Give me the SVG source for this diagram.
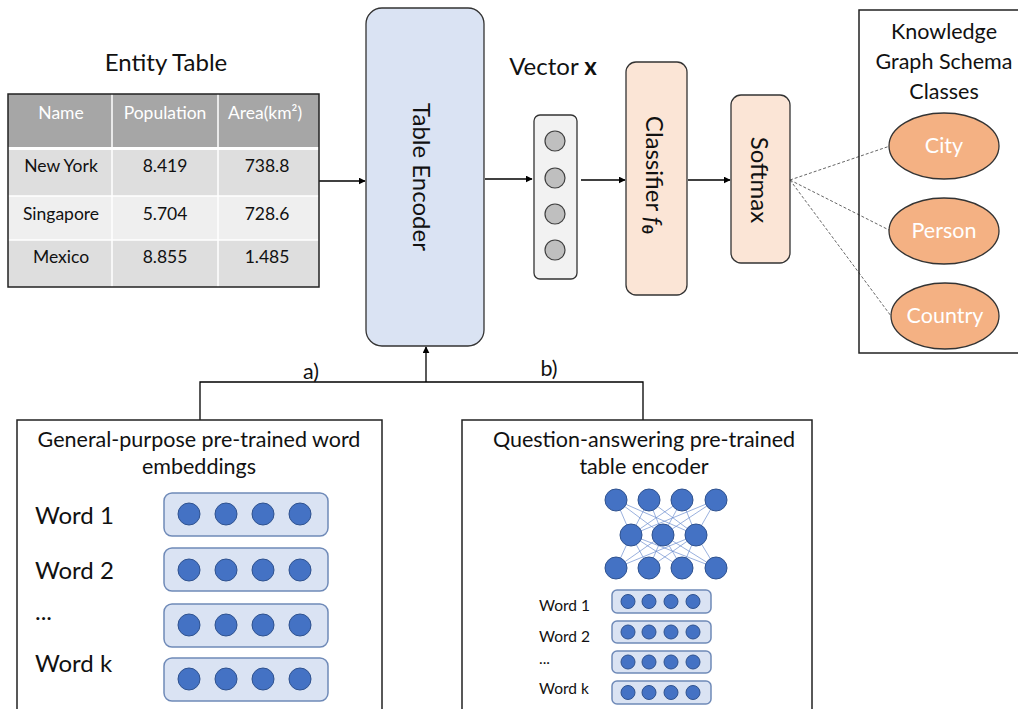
<svg xmlns="http://www.w3.org/2000/svg" width="1018" height="709" viewBox="0 0 1018 709">
<defs>
<marker id="arr" viewBox="0 0 10 10" refX="9" refY="5" markerWidth="7" markerHeight="7" orient="auto" markerUnits="userSpaceOnUse">
<path d="M0,0 L10,5 L0,10 z" fill="#000"/>
</marker>
</defs>
<style>
text{font-family:Lato,"Open Sans","Liberation Sans",sans-serif;fill:#111}
.hd{fill:#fff;font-size:17.5px}
.cell{font-size:17.5px}
.big{font-size:24px}
.lbl{font-size:21.5px}
.wl{font-size:24px}
.ws{font-size:15.5px}
.conn{stroke:#000;stroke-width:1.3;fill:none}
.dash{stroke:#666;stroke-width:1;stroke-dasharray:3,2;fill:none}
.vb{fill:#dae3f3;stroke:#6f8ab8;stroke-width:1.5}
.dot{fill:#4472c4;stroke:#2f528f;stroke-width:1}
.nn{stroke:#6f8fd0;stroke-width:0.7}
.ell{fill:#f4b183;stroke:#333;stroke-width:1.3}
.et{fill:#fff;font-size:21.5px}
.gc{fill:#bfbfbf;stroke:#404040;stroke-width:1.2}
</style>

<g id="connectors">
<line class="conn" x1="319" y1="181" x2="365" y2="181" marker-end="url(#arr)"/>
<line class="conn" x1="485" y1="179" x2="532" y2="179" marker-end="url(#arr)"/>
<line class="conn" x1="581" y1="180" x2="625" y2="180" marker-end="url(#arr)"/>
<line class="conn" x1="688" y1="180" x2="730" y2="180" marker-end="url(#arr)"/>
<line class="dash" x1="790" y1="180" x2="890" y2="146"/>
<line class="dash" x1="790" y1="180" x2="889" y2="230"/>
<line class="dash" x1="790" y1="180" x2="891" y2="316"/>
<polyline class="conn" points="200,420 200,382 643,382 643,420"/>
<line class="conn" x1="426" y1="382" x2="426" y2="347" marker-end="url(#arr)"/>
<text class="lbl" x="311" y="379" text-anchor="middle">a)</text>
<text class="lbl" x="549" y="376" text-anchor="middle">b)</text>
</g>

<g id="entity-table">
<text class="big" x="166" y="71" text-anchor="middle">Entity Table</text>
<rect x="8" y="94" width="311" height="53" fill="#a6a6a6"/>
<rect x="8" y="150" width="311" height="46" fill="#dedede"/>
<rect x="8" y="196" width="311" height="44" fill="#efefef"/>
<rect x="8" y="240" width="311" height="47" fill="#dedede"/>
<line x1="8" y1="148.5" x2="319" y2="148.5" stroke="#fff" stroke-width="3"/>
<line x1="8" y1="196" x2="319" y2="196" stroke="#fff" stroke-width="1.5"/>
<line x1="8" y1="240" x2="319" y2="240" stroke="#fff" stroke-width="1.5"/>
<line x1="112" y1="94" x2="112" y2="287" stroke="#fff" stroke-width="1.5"/>
<line x1="218" y1="94" x2="218" y2="287" stroke="#fff" stroke-width="1.5"/>
<rect x="8" y="94" width="311" height="193" fill="none" stroke="#222" stroke-width="1.5"/>
<text class="hd" x="61" y="119" text-anchor="middle">Name</text>
<text class="hd" x="165" y="119" text-anchor="middle">Population</text>
<text class="hd" x="265" y="119" text-anchor="middle">Area(km²)</text>
<text class="cell" x="61" y="172" text-anchor="middle">New York</text>
<text class="cell" x="165" y="172" text-anchor="middle">8.419</text>
<text class="cell" x="267" y="172" text-anchor="middle">738.8</text>
<text class="cell" x="61" y="220" text-anchor="middle">Singapore</text>
<text class="cell" x="165" y="220" text-anchor="middle">5.704</text>
<text class="cell" x="267" y="220" text-anchor="middle">728.6</text>
<text class="cell" x="61" y="263" text-anchor="middle">Mexico</text>
<text class="cell" x="165" y="263" text-anchor="middle">8.855</text>
<text class="cell" x="267" y="263" text-anchor="middle">1.485</text>
</g>

<g id="table-encoder">
<rect x="366" y="8" width="118" height="338" rx="16" fill="#dae3f3" stroke="#333" stroke-width="1.3"/>
<text class="big" font-size="25" transform="translate(422,177) rotate(90)" text-anchor="middle" dominant-baseline="central">Table Encoder</text>
</g>

<g id="vector-x">
<text class="big" x="553" y="75" text-anchor="middle">Vector <tspan font-weight="bold">x</tspan></text>
<rect x="534" y="115" width="43" height="164" rx="6" fill="#f2f2f2" stroke="#333" stroke-width="1.3"/>
<circle class="gc" cx="555" cy="141" r="10"/>
<circle class="gc" cx="555" cy="178" r="10"/>
<circle class="gc" cx="555" cy="214" r="10"/>
<circle class="gc" cx="555" cy="250" r="10"/>
</g>

<g id="classifier">
<rect x="626" y="62" width="61" height="233" rx="10" fill="#fbe5d6" stroke="#333" stroke-width="1.3"/>
<text class="big" transform="translate(655,175) rotate(90)" text-anchor="middle" dominant-baseline="central">Classifier <tspan font-style="italic">f</tspan><tspan font-weight="bold" font-size="16" dy="6">θ</tspan></text>
</g>

<g id="softmax">
<rect x="731" y="95" width="59" height="168" rx="10" fill="#fbe5d6" stroke="#333" stroke-width="1.3"/>
<text class="big" transform="translate(760,180) rotate(90)" text-anchor="middle" dominant-baseline="central">Softmax</text>
</g>

<g id="kg-schema">
<rect x="859" y="10" width="165" height="343" fill="none" stroke="#222" stroke-width="1.5"/>
<text class="lbl" x="944" y="39" text-anchor="middle">Knowledge</text>
<text class="lbl" x="944" y="69" text-anchor="middle">Graph Schema</text>
<text class="lbl" x="944" y="99" text-anchor="middle">Classes</text>
</g>
<g id="city">
<ellipse class="ell" cx="944" cy="146" rx="55" ry="33"/>
<text class="et" x="944" y="153" text-anchor="middle">City</text>
</g>
<g id="person">
<ellipse class="ell" cx="944" cy="231" rx="55" ry="33"/>
<text class="et" x="944" y="238" text-anchor="middle">Person</text>
</g>
<g id="country">
<ellipse class="ell" cx="945" cy="316" rx="54" ry="33"/>
<text class="et" x="945" y="323" text-anchor="middle">Country</text>
</g>

<g id="word-embeddings">
<rect x="17" y="420" width="365" height="300" fill="#fff" stroke="#222" stroke-width="1.5"/>
<text class="lbl" x="199" y="447" text-anchor="middle">General-purpose pre-trained word</text>
<text class="lbl" x="199" y="474" text-anchor="middle">embeddings</text>
<text class="wl" x="35" y="524">Word 1</text>
<text class="wl" x="35" y="579">Word 2</text>
<text class="wl" x="35" y="620">...</text>
<text class="wl" x="35" y="672">Word k</text>
<rect class="vb" x="164" y="493" width="164" height="43" rx="8"/>
<rect class="vb" x="164" y="548" width="164" height="43" rx="8"/>
<rect class="vb" x="164" y="604" width="164" height="43" rx="8"/>
<rect class="vb" x="164" y="658" width="164" height="43" rx="8"/>
<g>
<circle class="dot" cx="189" cy="514" r="11"/><circle class="dot" cx="226" cy="514" r="11"/><circle class="dot" cx="263" cy="514" r="11"/><circle class="dot" cx="300" cy="514" r="11"/>
<circle class="dot" cx="189" cy="570" r="11"/><circle class="dot" cx="226" cy="570" r="11"/><circle class="dot" cx="263" cy="570" r="11"/><circle class="dot" cx="300" cy="570" r="11"/>
<circle class="dot" cx="189" cy="625" r="11"/><circle class="dot" cx="226" cy="625" r="11"/><circle class="dot" cx="263" cy="625" r="11"/><circle class="dot" cx="300" cy="625" r="11"/>
<circle class="dot" cx="189" cy="679" r="11"/><circle class="dot" cx="226" cy="679" r="11"/><circle class="dot" cx="263" cy="679" r="11"/><circle class="dot" cx="300" cy="679" r="11"/>
</g>
</g>

<g id="qa-encoder">
<rect x="462" y="420" width="350" height="300" fill="#fff" stroke="#222" stroke-width="1.5"/>
<text class="lbl" x="644" y="447" text-anchor="middle">Question-answering pre-trained</text>
<text class="lbl" x="644" y="474" text-anchor="middle">table encoder</text>
<g>
<line class="nn" x1="616" y1="500" x2="631" y2="535"/><line class="nn" x1="616" y1="500" x2="663" y2="535"/><line class="nn" x1="616" y1="500" x2="696" y2="535"/>
<line class="nn" x1="649" y1="500" x2="631" y2="535"/><line class="nn" x1="649" y1="500" x2="663" y2="535"/><line class="nn" x1="649" y1="500" x2="696" y2="535"/>
<line class="nn" x1="682" y1="500" x2="631" y2="535"/><line class="nn" x1="682" y1="500" x2="663" y2="535"/><line class="nn" x1="682" y1="500" x2="696" y2="535"/>
<line class="nn" x1="716" y1="500" x2="631" y2="535"/><line class="nn" x1="716" y1="500" x2="663" y2="535"/><line class="nn" x1="716" y1="500" x2="696" y2="535"/>
<line class="nn" x1="616" y1="568" x2="631" y2="535"/><line class="nn" x1="616" y1="568" x2="663" y2="535"/><line class="nn" x1="616" y1="568" x2="696" y2="535"/>
<line class="nn" x1="649" y1="568" x2="631" y2="535"/><line class="nn" x1="649" y1="568" x2="663" y2="535"/><line class="nn" x1="649" y1="568" x2="696" y2="535"/>
<line class="nn" x1="682" y1="568" x2="631" y2="535"/><line class="nn" x1="682" y1="568" x2="663" y2="535"/><line class="nn" x1="682" y1="568" x2="696" y2="535"/>
<line class="nn" x1="716" y1="568" x2="631" y2="535"/><line class="nn" x1="716" y1="568" x2="663" y2="535"/><line class="nn" x1="716" y1="568" x2="696" y2="535"/>
</g>
<circle class="dot" cx="616" cy="500" r="11"/><circle class="dot" cx="649" cy="500" r="11"/><circle class="dot" cx="682" cy="500" r="11"/><circle class="dot" cx="716" cy="500" r="11"/>
<circle class="dot" cx="631" cy="535" r="11"/><circle class="dot" cx="663" cy="535" r="11"/><circle class="dot" cx="696" cy="535" r="11"/>
<circle class="dot" cx="616" cy="568" r="11"/><circle class="dot" cx="649" cy="568" r="11"/><circle class="dot" cx="682" cy="568" r="11"/><circle class="dot" cx="716" cy="568" r="11"/>
<text class="ws" x="539" y="611">Word 1</text>
<text class="ws" x="539" y="642">Word 2</text>
<text class="ws" x="539" y="664">...</text>
<text class="ws" x="539" y="694">Word k</text>
<rect class="vb" x="612" y="590" width="99" height="23" rx="5"/>
<rect class="vb" x="612" y="621" width="99" height="22" rx="5"/>
<rect class="vb" x="612" y="651" width="99" height="22" rx="5"/>
<rect class="vb" x="612" y="681" width="99" height="23" rx="5"/>
<circle class="dot" cx="628" cy="601.5" r="7"/><circle class="dot" cx="649" cy="601.5" r="7"/><circle class="dot" cx="671" cy="601.5" r="7"/><circle class="dot" cx="693" cy="601.5" r="7"/>
<circle class="dot" cx="628" cy="632" r="7"/><circle class="dot" cx="649" cy="632" r="7"/><circle class="dot" cx="671" cy="632" r="7"/><circle class="dot" cx="693" cy="632" r="7"/>
<circle class="dot" cx="628" cy="662" r="7"/><circle class="dot" cx="649" cy="662" r="7"/><circle class="dot" cx="671" cy="662" r="7"/><circle class="dot" cx="693" cy="662" r="7"/>
<circle class="dot" cx="628" cy="692.5" r="7"/><circle class="dot" cx="649" cy="692.5" r="7"/><circle class="dot" cx="671" cy="692.5" r="7"/><circle class="dot" cx="693" cy="692.5" r="7"/>
</g>
</svg>
